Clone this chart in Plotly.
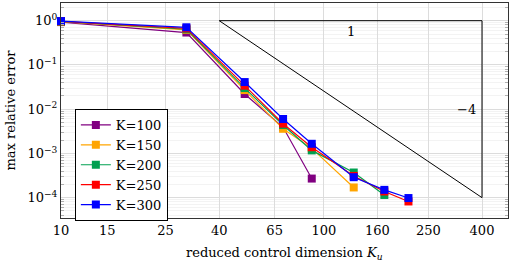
import plotly.graph_objects as go

x_vals = [10, 30, 50, 70, 90, 130, 170, 210]
series_names = ["K=100", "K=150", "K=200", "K=250", "K=300"]
err_k100 = [0.93, 0.54, 0.022, 0.0039, 0.00027]
err_k150 = [0.95, 0.62, 0.027, 0.0036, 0.0013, 0.00017]
err_k200 = [0.96, 0.64, 0.030, 0.0044, 0.00117, 0.00037, 0.000115]
err_k250 = [0.97, 0.67, 0.034, 0.0047, 0.00138, 0.00031, 0.000138, 0.000082]
err_k300 = [0.98, 0.71, 0.041, 0.0060, 0.00165, 0.00029, 0.00015, 0.000098]
series_vals = [err_k100, err_k150, err_k200, err_k250, err_k300]
colors = ["#800080", "#FFA500", "#00A050", "#FF0000", "#0000FF"]

tri_x = [40, 400, 400, 40]
tri_y = [1, 1, 1e-4, 1]

x_ticks = [10, 15, 25, 40, 65, 100, 160, 250, 400]
y_ticks = [1, 1e-1, 1e-2, 1e-3, 1e-4]
y_ticktext = ["10<sup>0</sup>", "10<sup>−1</sup>", "10<sup>−2</sup>", "10<sup>−3</sup>", "10<sup>−4</sup>"]
y_minor = [k * 10.0 ** e for e in range(-5, 1) for k in range(2, 10)]

font_family = "DejaVu Serif"
fs = 13

fig = go.Figure()
fig.add_trace(go.Scatter(x=tri_x, y=tri_y, mode="lines",
                         line=dict(color="black", width=1), showlegend=False, hoverinfo="skip"))
for name, vals, c in zip(series_names, series_vals, colors):
    fig.add_trace(go.Scatter(x=x_vals[:len(vals)], y=vals, mode="lines+markers", name=name,
                             line=dict(color=c, width=1.2), cliponaxis=False,
                             marker=dict(symbol="square", size=8, color=c)))

fig.add_annotation(x=2.102, y=-0.25, xref="x", yref="y", text="1", showarrow=False,
                   font=dict(size=fs, color="black", family=font_family))
fig.add_annotation(x=2.544, y=-2.0, xref="x", yref="y", text="−4", showarrow=False,
                   font=dict(size=fs, color="black", family=font_family))
fig.add_annotation(x=0.5, y=-0.163, xref="paper", yref="paper", yanchor="middle",
                   text="reduced control dimension <i>K<sub>u</sub></i>", showarrow=False,
                   font=dict(size=fs, color="black", family=font_family))
fig.add_annotation(x=-0.114, y=0.5, xref="paper", yref="paper", xanchor="center",
                   text="max relative error", showarrow=False, textangle=-90,
                   font=dict(size=fs, color="black", family=font_family))

fig.update_layout(
    width=510, height=263,
    margin=dict(l=61, r=2, t=3, b=45, autoexpand=False),
    plot_bgcolor="white", paper_bgcolor="white",
    font=dict(family=font_family, size=fs, color="black"),
    showlegend=True,
    legend=dict(x=0.031, y=0.507, xanchor="left", yanchor="top",
                bordercolor="black", borderwidth=1, bgcolor="white",
                font=dict(size=fs, family=font_family), tracegroupgap=0,
                itemwidth=30),
    xaxis=dict(type="log", range=[1, 2.701], tickvals=x_ticks, ticktext=[str(v) for v in x_ticks],
               showgrid=True, gridcolor="#dcdcdc", gridwidth=1, automargin=False,
               showline=True, linecolor="#333333", linewidth=1, mirror=True,
               ticks="", zeroline=False, tickfont=dict(size=fs, family=font_family)),
    yaxis=dict(type="log", range=[-4.46, 0.4], tickvals=y_ticks, ticktext=y_ticktext,
               showgrid=True, gridcolor="#dcdcdc", gridwidth=1, automargin=False,
               showline=True, linecolor="#333333", linewidth=1, mirror="ticks",
               ticks="", zeroline=False, tickfont=dict(size=fs, family=font_family),
               minor=dict(tickvals=y_minor, showgrid=True, gridcolor="#f3f3f3",
                          ticks="inside", ticklen=3, tickcolor="#b0b0b0")),
)

fig.write_html("out.html", config={"displayModeBar": False},
               post_script="document.body.style.margin='0';document.body.style.padding='0';document.body.style.overflow='hidden';")
